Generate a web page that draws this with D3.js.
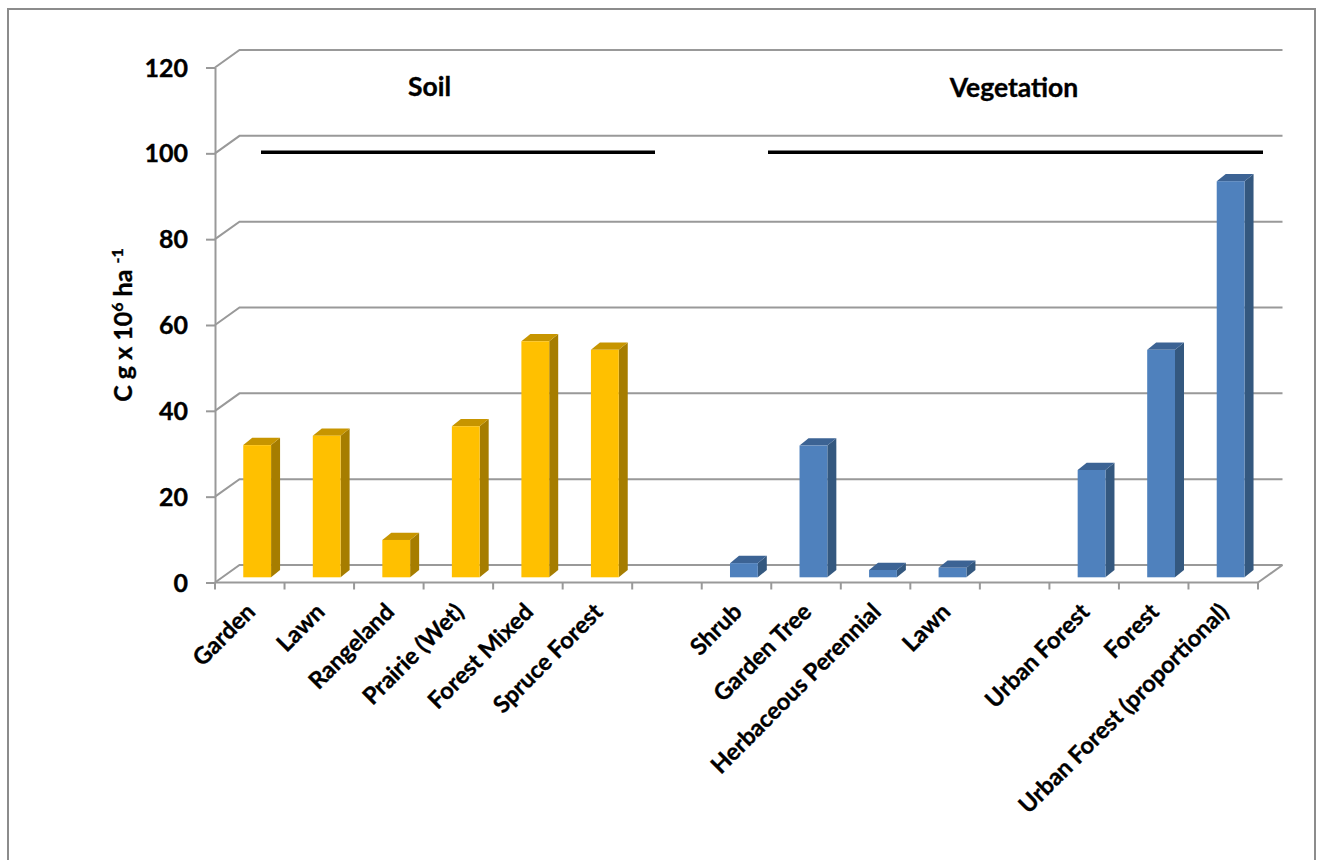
<!DOCTYPE html>
<html>
<head>
<meta charset="utf-8">
<script src="https://d3js.org/d3.v7.min.js"></script>
<style>
	html, body { margin: 0; padding: 0; background: #fff; overflow: hidden; }
	svg { display: block; }
	text { font-family: Lato, "Open Sans", sans-serif; font-weight: 700; fill: #000; stroke: #000; stroke-width: 0.35px; }
</style>
</head>
<body>
<svg width="1322" height="860"></svg>
<script>
var categories = ["Garden", "Lawn", "Rangeland", "Prairie (Wet)", "Forest Mixed", "Spruce Forest", "",
	"Shrub", "Garden Tree", "Herbaceous Perennial", "Lawn", "",
	"Urban Forest", "Forest", "Urban Forest (proportional)"];
var soilValues = [30.8, 33, 8.7, 35.2, 55, 53, null, null, null, null, null, null, null, null, null];
var vegetationValues = [null, null, null, null, null, null, null, 3.3, 30.7, 1.7, 2.2, null, 25, 53, 92.3];
var yTicks = [0, 20, 40, 60, 80, 100, 120];

var svg = d3.select("svg");

var x = d3.scaleBand().domain(d3.range(categories.length)).range([215, 1258]),
	y = d3.scaleLinear().domain([0, 120]).range([582.5, 67.5]);

// 3d depth of the chart walls and of the bars
var wallDx = 24.5, wallDy = 17.5;
var barInsetX = 7.4, barInsetY = 5.2, barDx = 9, barDy = 7.3;
var barWidth = x.bandwidth() * 0.4;
var gray = "#999";

// outer frame, bottom edge runs off the page
svg.append("rect")
	.attr("x", 8).attr("y", 9)
	.attr("width", 1307).attr("height", 880)
	.attr("fill", "#fff")
	.attr("stroke", "#8c8c8c")
	.attr("stroke-width", 2);

// back wall grid lines
svg.append("g").selectAll("path")
	.data(yTicks)
	.enter().append("path")
	.attr("fill", "none")
	.attr("stroke", gray)
	.attr("stroke-width", 2)
	.attr("d", function(d) {
		return d3.line()([[x.range()[0], y(d)], [x.range()[0] + wallDx, y(d) - wallDy], [x.range()[1] + wallDx, y(d) - wallDy]]);
	});

// right edge of the floor
svg.append("path")
	.attr("fill", "none")
	.attr("stroke", gray)
	.attr("stroke-width", 2)
	.attr("d", d3.line()([[x.range()[1], y(0)], [x.range()[1] + wallDx, y(0) - wallDy]]));

// y axis
var yAxis = svg.append("g")
	.attr("transform", "translate(" + x.range()[0] + ",0)")
	.call(d3.axisLeft(y).tickValues(yTicks).tickSize(9).tickPadding(18).tickSizeOuter(0));
yAxis.selectAll("path, line").attr("stroke", gray).attr("stroke-width", 2);
yAxis.selectAll("text").attr("font-size", 25).attr("font-family", null).attr("dy", "0.34em");

// x axis, ticks sit on the band edges
svg.append("line")
	.attr("x1", x.range()[0]).attr("x2", x.range()[1])
	.attr("y1", y(0)).attr("y2", y(0))
	.attr("stroke", gray).attr("stroke-width", 2);
svg.append("g").selectAll("line")
	.data(d3.range(categories.length + 1))
	.enter().append("line")
	.attr("x1", function(i) { return x.range()[0] + i * x.step(); })
	.attr("x2", function(i) { return x.range()[0] + i * x.step(); })
	.attr("y1", y(0))
	.attr("y2", y(0) + 7)
	.attr("stroke", gray)
	.attr("stroke-width", 2);

svg.append("g").selectAll("text")
	.data(categories)
	.enter().append("text")
	.attr("font-size", 23.5)
	.attr("text-anchor", "end")
	.attr("transform", function(d, i) {
		return "translate(" + (x(i) + x.bandwidth() / 2 + 1) + "," + (y(0) + 25) + ") rotate(-45)";
	})
	.attr("dy", "0.35em")
	.text(function(d) { return d; });

function drawBars(values, front, side, top) {
	var bars = svg.append("g").selectAll("g")
		.data(values.map(function(v, i) { return { i: i, v: v }; }).filter(function(d) { return d.v !== null; }))
		.enter().append("g");

	function left(d) { return x(d.i) + x.bandwidth() / 2 + barInsetX - barWidth / 2; }
	function topY(d) { return y(d.v) - barInsetY; }
	function baseY() { return y(0) - barInsetY; }

	bars.append("path")
		.attr("fill", side)
		.attr("d", function(d) {
			var r = left(d) + barWidth;
			return d3.line()([[r, topY(d)], [r + barDx, topY(d) - barDy], [r + barDx, baseY() - barDy], [r, baseY()]]) + "Z";
		});
	bars.append("path")
		.attr("fill", top)
		.attr("d", function(d) {
			var l = left(d);
			return d3.line()([[l, topY(d)], [l + barDx, topY(d) - barDy], [l + barWidth + barDx, topY(d) - barDy], [l + barWidth, topY(d)]]) + "Z";
		});
	bars.append("rect")
		.attr("fill", front)
		.attr("x", left)
		.attr("y", topY)
		.attr("width", barWidth)
		.attr("height", function(d) { return baseY() - topY(d); });
}

drawBars(soilValues, "#FFC000", "#A67D00", "#C79500");
drawBars(vegetationValues, "#4F81BD", "#34587F", "#3C6394");

// group labels and their rules
svg.append("text")
	.attr("x", 429.5).attr("y", 96)
	.attr("text-anchor", "middle")
	.attr("font-size", 26.5)
	.text("Soil");
svg.append("text")
	.attr("x", 1014).attr("y", 97)
	.attr("text-anchor", "middle")
	.attr("font-size", 26.5)
	.text("Vegetation");

svg.append("line")
	.attr("x1", 261).attr("x2", 655)
	.attr("y1", y(100) - 1).attr("y2", y(100) - 1)
	.attr("stroke", "#000").attr("stroke-width", 3.5);
svg.append("line")
	.attr("x1", 768).attr("x2", 1263)
	.attr("y1", y(100) - 1).attr("y2", y(100) - 1)
	.attr("stroke", "#000").attr("stroke-width", 3.5);

// axis title
var title = svg.append("text")
	.attr("transform", "translate(132,325) rotate(-90)")
	.attr("text-anchor", "middle")
	.attr("font-size", 25);
title.append("tspan").text("C g x 10");
title.append("tspan").attr("font-size", 16).attr("dy", -9).text("6");
title.append("tspan").attr("dy", 9).text(" ha ");
title.append("tspan").attr("font-size", 16).attr("dy", -9).text("-1");
</script>
</body>
</html>
